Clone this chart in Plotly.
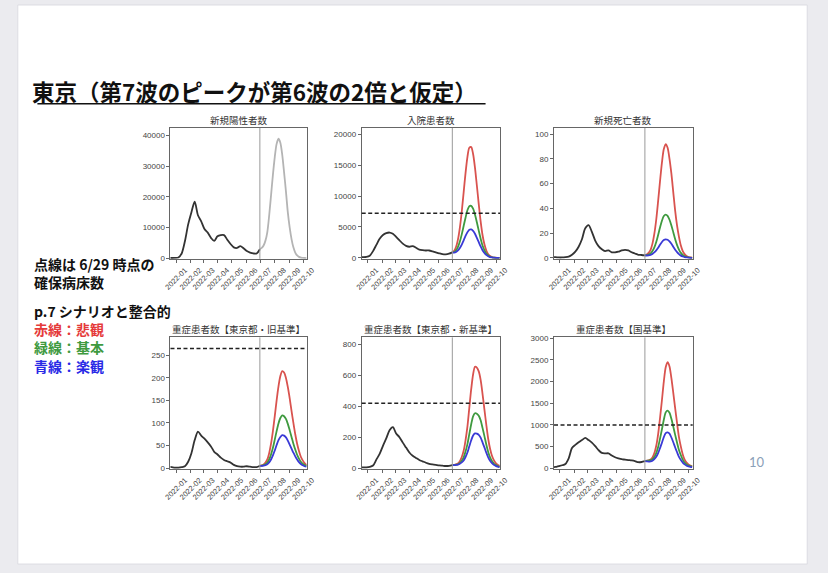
import plotly.graph_objects as go
import pandas as pd

W, H = 828, 573

# ---------------- data ----------------
obs_dates = pd.date_range("2021-12-16", "2022-06-30", freq="7D")   # 29 weekly points
proj_dates = pd.date_range("2022-06-30", "2022-10-08", freq="4D")  # 26 points
cut_date = "2022-06-30"
x_range = ["2021-12-20", "2022-10-09"]

panel_titles = ["新規陽性者数", "入院患者数", "新規死亡者数",
                "重症患者数【東京都・旧基準】", "重症患者数【東京都・新基準】", "重症患者数【国基準】"]

cases_obs = [20, 20, 60, 200, 1500, 5500, 11000, 15000, 18400, 14000, 12000, 9500, 8300, 6600, 5600,
             7100, 7500, 7500, 6000, 4600, 3500, 3300, 3900, 3200, 2300, 1800, 1500, 1500, 2900]
cases_proj = [2900, 3300, 4100, 5700, 8500, 13900, 20500, 27200, 33000, 37300, 39000, 37700, 33800,
              28000, 21800, 15000, 10000, 6200, 3500, 1800, 850, 380, 150, 60, 20, 5]

hosp_obs = [120, 120, 150, 350, 1100, 2100, 3100, 3700, 4000, 4100, 3900, 3400, 2850, 2300, 1950,
            1800, 1900, 1650, 1350, 1250, 1200, 1200, 1050, 900, 750, 620, 580, 680, 900]
hosp_red = [900, 1150, 1800, 3000, 4900, 7500, 10600, 13700, 16300, 17800, 17900, 16800, 14600,
            11700, 8700, 5900, 3700, 2200, 1200, 600, 300, 130, 60, 25, 10, 5]
hosp_green = [900, 950, 1250, 1800, 2650, 3800, 5150, 6500, 7700, 8350, 8400, 7950, 7000,
              5750, 4400, 3100, 2000, 1250, 700, 380, 190, 90, 40, 18, 8, 4]
hosp_blue = [900, 870, 950, 1200, 1600, 2150, 2850, 3550, 4150, 4550, 4600, 4350, 3900,
             3250, 2550, 1850, 1250, 800, 480, 270, 140, 70, 30, 14, 6, 3]

deaths_obs = [0.5, 0.5, 0.3, 0.3, 0.5, 1.0, 2.5, 5, 9, 15, 24, 26.5, 21, 14, 9.5,
              7, 5.5, 6, 4.5, 4.5, 5, 6, 6.5, 6, 4.5, 3.5, 2.5, 2.3, 2]
deaths_red = [2, 2.8, 4, 6.5, 11.5, 19.5, 31, 46, 62, 77, 88, 92, 89, 80, 68, 53, 38, 26, 17, 10,
              5.5, 3, 1.5, 0.7, 0.3, 0.1]
deaths_green = [2, 2.2, 2.6, 3.5, 5.5, 8.5, 12.8, 18.5, 24.5, 30, 33.8, 35, 34, 30.8, 26.2, 20.7,
                15, 10.3, 6.7, 4, 2.3, 1.3, 0.7, 0.3, 0.15, 0.05]
deaths_blue = [2, 1.9, 2, 2.4, 3.2, 4.4, 6, 8.2, 10.6, 12.8, 14.4, 15, 14.6, 13.3, 11.4, 9, 6.6,
               4.6, 3, 1.8, 1.1, 0.6, 0.3, 0.15, 0.05, 0]

sev_old_obs = [3, 2, 1, 1, 2, 4, 14, 33, 62, 81, 72, 65, 57, 48, 36,
               30, 23, 18, 15, 12, 7, 4, 3, 3, 4, 3, 2, 2, 5]
sev_old_red = [5, 6, 8, 12, 19, 33, 54, 82, 115, 150, 181, 204, 215, 212, 200, 180, 155, 127, 100,
               75, 54, 38, 25, 17, 11, 7]
sev_old_green = [5, 5.5, 6.5, 8.5, 12, 19, 30, 45, 63, 82, 99, 111, 117, 115, 109, 98, 84, 69, 54,
                 41, 29.5, 21, 14, 9.5, 6.5, 4.5]
sev_old_blue = [5, 5, 5.5, 6.5, 8.5, 12.5, 19, 28, 39, 51, 62, 69, 73, 72, 68, 61, 52, 43, 34, 26,
                19, 13, 9, 6, 4, 3]

sev_new_obs = [5, 5, 5, 8, 17, 55, 92, 144, 192, 245, 265, 224, 200, 165, 133,
               101, 80, 66, 53, 44, 35, 28, 24, 21, 18, 16, 14, 15, 20]
sev_new_red = [20, 21, 24, 30, 45, 72, 112, 180, 268, 390, 510, 605, 655, 650, 625, 570, 480, 380,
               280, 190, 125, 80, 52, 33, 22, 15]
sev_new_green = [20, 20, 22, 25, 33, 48, 70, 107, 155, 220, 284, 335, 355, 352, 339, 309, 260, 207,
                 153, 105, 70, 46, 30, 20, 13, 9]
sev_new_blue = [20, 20, 21, 23, 28, 37, 50, 72, 101, 141, 180, 211, 225, 223, 215, 197, 167, 134,
                100, 70, 48, 33, 22, 15, 10, 7]

sev_nat_obs = [20, 30, 50, 70, 100, 230, 470, 540, 600, 650, 700, 650, 590, 510, 420,
               355, 345, 345, 295, 255, 230, 210, 200, 190, 180, 165, 140, 145, 165]
sev_nat_red = [165, 175, 185, 205, 250, 350, 520, 790, 1160, 1570, 2000, 2330, 2450, 2350, 2080,
               1740, 1380, 1040, 720, 500, 320, 200, 130, 90, 65, 50]
sev_nat_green = [165, 172, 177, 188, 210, 262, 350, 490, 685, 900, 1120, 1290, 1330, 1280, 1140,
                 960, 770, 590, 420, 300, 200, 130, 90, 65, 50, 40]
sev_nat_blue = [165, 160, 155, 160, 175, 210, 265, 350, 465, 590, 720, 810, 830, 800, 710, 600,
                480, 370, 265, 190, 130, 90, 60, 45, 35, 28]

# secured beds as of 6/29 (dashed lines); None = no line
bed_lines = [None, 7200, None, 265, 420, 1000]

y_ranges = [[-250, 42500], [-150, 21000], [-0.8, 105], [-2, 290], [-5, 845], [-15, 3020]]
y_dticks = [10000, 5000, 20, 50, 200, 500]

observed = [cases_obs, hosp_obs, deaths_obs, sev_old_obs, sev_new_obs, sev_nat_obs]
scen_red = [None, hosp_red, deaths_red, sev_old_red, sev_new_red, sev_nat_red]
scen_green = [None, hosp_green, deaths_green, sev_old_green, sev_new_green, sev_nat_green]
scen_blue = [None, hosp_blue, deaths_blue, sev_old_blue, sev_new_blue, sev_nat_blue]

# ---------------- layout geometry (pixels) ----------------
col_x = [(166.7, 305.8), (361.7, 502.7), (557.8, 699.2)]
row_y = [(126.5, 259.0), (338.5, 471.7)]

C_OBS = "#333333"
C_GRAY = "#b4b4b4"
C_RED = "#d9534f"
C_GREEN = "#3f9a3f"
C_BLUE = "#3a3ad6"
T_RED, T_GREEN, T_BLUE = "#e53a3a", "#3f9a3f", "#2a2ae6"
JP = "Noto Sans CJK JP"
BG = "#ebebef"

fig = go.Figure()
layout = dict(
    width=W, height=H, autosize=False,
    margin=dict(l=0, r=0, t=0, b=0),
    paper_bgcolor=BG, plot_bgcolor="white",
    showlegend=False,
    font=dict(family="Liberation Sans", size=8, color="#444"),
)

shapes = [
    dict(type="rect", xref="paper", yref="paper", x0=11 / W, x1=816 / W, y0=1 - 568 / H, y1=1 - 2 / H,
         fillcolor="white", line=dict(color="#dcdce2", width=1), layer="below"),
    dict(type="line", xref="paper", yref="paper", x0=31 / W, x1=488 / W, y0=1 - 102 / H, y1=1 - 102 / H,
         line=dict(color="#111", width=1.6)),
]
annotations = []


def line(x, y, color, xa, ya, width=1.8):
    return go.Scatter(x=x, y=y, mode="lines", xaxis=xa, yaxis=ya,
                      line=dict(color=color, width=width, shape="spline", smoothing=0.8),
                      hoverinfo="skip")


for i in range(6):
    r, c = divmod(i, 3)
    n = "" if i == 0 else str(i + 1)
    xa, ya = "x" + n, "y" + n
    x0, x1 = col_x[c]
    ytop, ybot = row_y[r]
    layout["xaxis" + n] = dict(
        domain=[x0 / W, x1 / W], anchor=ya, type="date", range=x_range,
        tick0="2022-01-01", dtick="M1", tickformat="%Y-%m", tickangle=-45,
        ticklabelshift=9,
        showline=True, mirror=True, linecolor="#666", linewidth=1,
        ticks="outside", ticklen=3, tickcolor="#666", showgrid=False, zeroline=False,
        tickfont=dict(size=7.5, color="#444"), fixedrange=True,
    )
    layout["yaxis" + n] = dict(
        domain=[1 - ybot / H, 1 - ytop / H], anchor=xa, range=y_ranges[i],
        dtick=y_dticks[i], tick0=0, tickformat="d",
        showline=True, mirror=True, linecolor="#666", linewidth=1,
        ticks="outside", ticklen=3, tickcolor="#666", showgrid=False, zeroline=False,
        tickfont=dict(size=8, color="#444"), fixedrange=True,
    )
    fig.add_trace(line(obs_dates, observed[i], C_OBS, xa, ya))
    if i == 0:
        fig.add_trace(line(proj_dates, cases_proj, C_GRAY, xa, ya))
    else:
        fig.add_trace(line(proj_dates, scen_red[i], C_RED, xa, ya))
        fig.add_trace(line(proj_dates, scen_green[i], C_GREEN, xa, ya))
        fig.add_trace(line(proj_dates, scen_blue[i], C_BLUE, xa, ya))
    shapes.append(dict(type="line", xref=xa, yref=ya + " domain", x0=cut_date, x1=cut_date,
                       y0=0, y1=1, line=dict(color="#9a9a9a", width=1)))
    if bed_lines[i] is not None:
        shapes.append(dict(type="line", xref=xa + " domain", yref=ya, x0=0, x1=1,
                           y0=bed_lines[i], y1=bed_lines[i],
                           line=dict(color="#222", width=1.5, dash="4px,2.5px")))
    annotations.append(dict(text=panel_titles[i], xref="paper", yref="paper",
                            x=(x0 + x1) / 2 / W, y=1 - (ytop - 8.5) / H, xanchor="center", yanchor="middle",
                            showarrow=False, font=dict(family=JP, size=9.5, color="#333")))

# slide texts
annotations.append(dict(text="<b>東京（第7波のピークが第6波の2倍と仮定）</b>", xref="paper", yref="paper",
                        x=23 / W, y=1 - 89.5 / H, xanchor="left", yanchor="middle", showarrow=False,
                        font=dict(family=JP, size=22.5, color="#111")))
note_beds = "<b>点線は 6/29 時点の</b><br><b>確保病床数</b>"
note_scen = ("<b>p.7 シナリオと整合的</b><br>"
             "<b><span style='color:" + T_RED + "'>赤線：悲観</span></b><br>"
             "<b><span style='color:" + T_GREEN + "'>緑線：基本</span></b><br>"
             "<b><span style='color:" + T_BLUE + "'>青線：楽観</span></b>")
annotations.append(dict(text=note_beds, xref="paper", yref="paper", align="left",
                        x=25 / W, y=1 - 273.3 / H, xanchor="left", yanchor="middle", showarrow=False,
                        font=dict(family=JP, size=14, color="#111")))
annotations.append(dict(text=note_scen, xref="paper", yref="paper", align="left",
                        x=25 / W, y=1 - 339.8 / H, xanchor="left", yanchor="middle", showarrow=False,
                        font=dict(family=JP, size=14, color="#111")))
annotations.append(dict(text="10", xref="paper", yref="paper", x=765 / W, y=1 - 465 / H,
                        xanchor="center", yanchor="middle", showarrow=False,
                        font=dict(family="Lato", size=13, color="#8aa0b8")))

layout["shapes"] = shapes
layout["annotations"] = annotations
fig.update_layout(**layout)
fig.write_html(
    "out.html",
    config={"displayModeBar": False, "staticPlot": True},
    post_script=("document.documentElement.style.overflow='hidden';"
                 "document.body.style.overflow='hidden';"
                 "document.body.style.margin='0px';"
                 "document.body.style.background='" + BG + "';"),
)
